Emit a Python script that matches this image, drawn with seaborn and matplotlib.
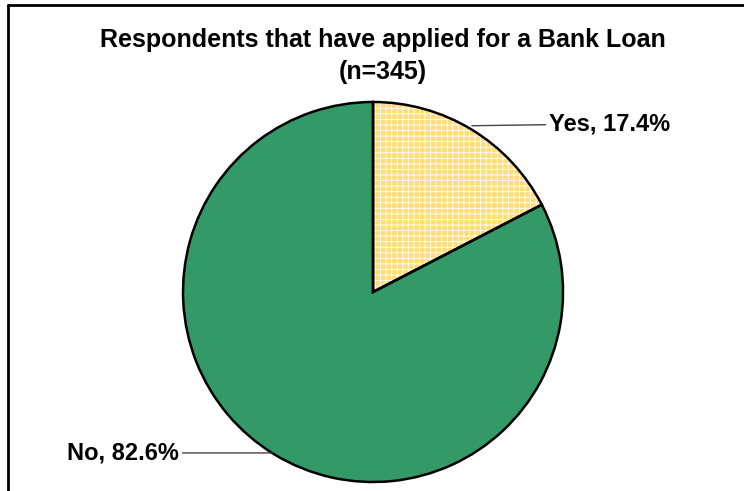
import matplotlib.pyplot as plt
import matplotlib.lines as mlines
import seaborn as sns

sns.set_theme(style="white")
plt.rcParams["font.family"] = ["Liberation Sans", "DejaVu Sans"]
plt.rcParams["hatch.linewidth"] = 0.6

# Data
answers = ["Yes", "No"]
shares = [17.4, 82.6]
colors = ["#FFDD77", "#339966"]
title = "Respondents that have applied for a Bank Loan\n(n=345)"

fig = plt.figure(figsize=(7.44, 4.91), dpi=100)
ax = fig.add_axes([0.246, 0.0183, 0.5108, 0.774])

# fill with white hatch pattern, then black outline on top
wedges, _ = ax.pie(shares, colors=colors, startangle=90, counterclock=False,
                   radius=1, wedgeprops=dict(edgecolor="white", linewidth=0))
wedges[0].set_hatch("+++")
ax.pie(shares, colors=["none", "none"], startangle=90, counterclock=False,
       radius=1, wedgeprops=dict(edgecolor="black", linewidth=1.8))

ax.set_xlim(-1.0, 1.0)
ax.set_ylim(-1.0, 1.0)
ax.set_aspect("equal")
ax.axis("off")

# labels with leader lines
ax.annotate(f"{answers[0]}, {shares[0]}%", xy=(0.52, 0.875), xytext=(0.925, 0.885),
            fontsize=17, fontweight="bold", va="center", ha="left", color="black",
            arrowprops=dict(arrowstyle="-", color="#444444", lw=1,
                            shrinkA=0, shrinkB=0))
ax.annotate(f"{answers[1]}, {shares[1]}%", xy=(-0.53, -0.847), xytext=(-1.02, -0.847),
            fontsize=17, fontweight="bold", va="center", ha="right", color="black",
            arrowprops=dict(arrowstyle="-", color="#444444", lw=1,
                            shrinkA=0, shrinkB=0))

fig.text(0.514, 0.886, title, ha="center", va="center", fontsize=18,
         fontweight="bold", linespacing=1.45, color="black")

# chart frame
fig.add_artist(mlines.Line2D([0.011, 1.0], [0.99, 0.99], color="black", lw=2))
fig.add_artist(mlines.Line2D([0.011, 0.011], [0.0, 0.99], color="black", lw=2))

fig.savefig("out.png", dpi=100)
